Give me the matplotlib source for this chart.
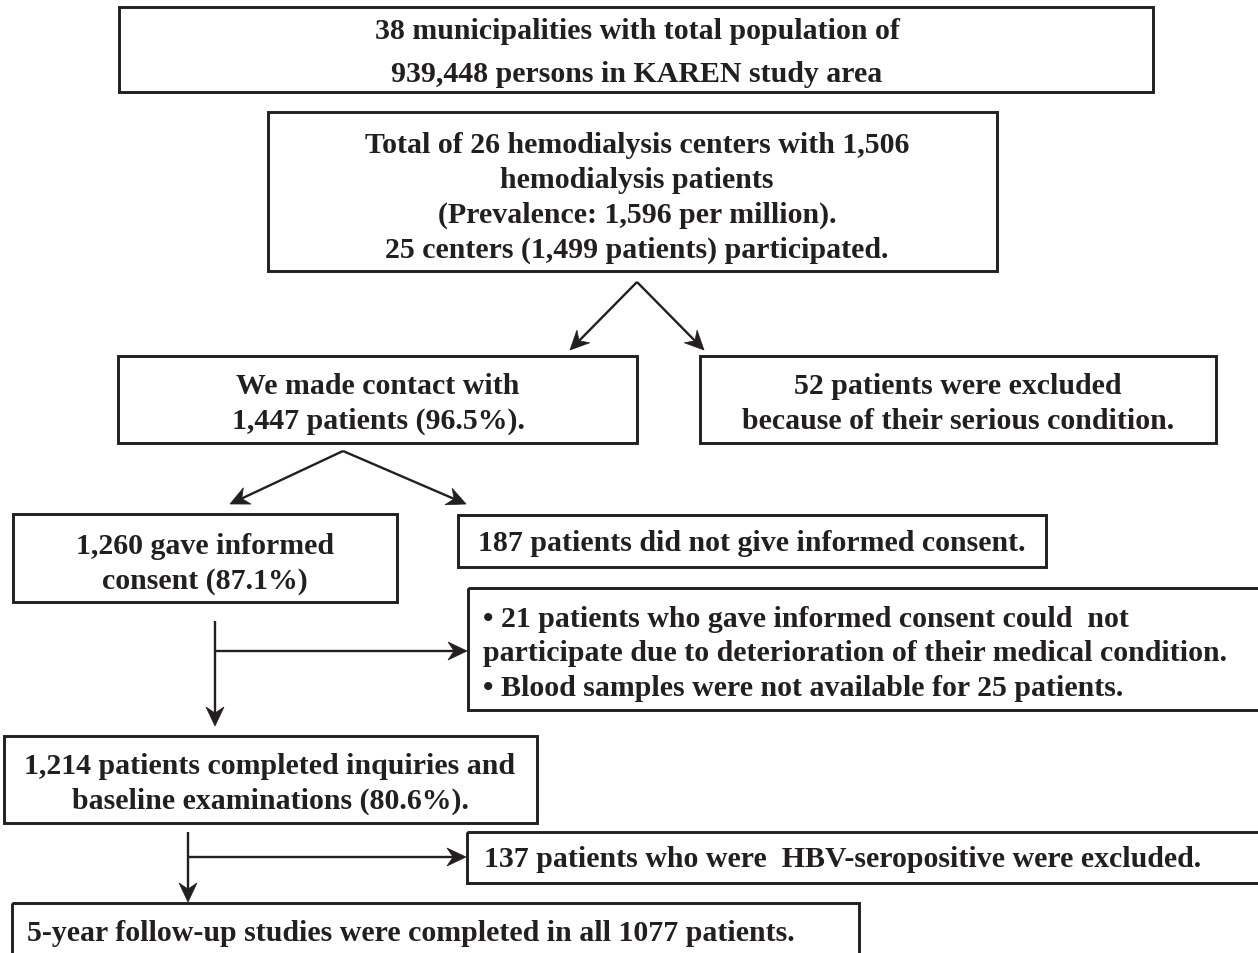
import numpy as np
import matplotlib
matplotlib.use("Agg")
import matplotlib.pyplot as plt
from matplotlib.patches import Rectangle, Polygon

# ---- content ----
box_texts = [
    "38 municipalities with total population of\n939,448 persons in KAREN study area",
    "Total of 26 hemodialysis centers with 1,506\nhemodialysis patients\n(Prevalence: 1,596 per million).\n25 centers (1,499 patients) participated.",
    "We made contact with\n1,447 patients (96.5%).",
    "52 patients were excluded\nbecause of their serious condition.",
    "1,260 gave informed\nconsent (87.1%)",
    "187 patients did not give informed consent.",
    "• 21 patients who gave informed consent could  not\nparticipate due to deterioration of their medical condition.\n• Blood samples were not available for 25 patients.",
    "1,214 patients completed inquiries and\nbaseline examinations (80.6%).",
    "137 patients who were  HBV-seropositive were excluded.",
    "5-year follow-up studies were completed in all 1077 patients.",
]

# ---- layout (pixel coordinates: x0, y0, x1, y1) ----
boxes = [
    (119, 8, 1153, 93),
    (268, 113, 997, 272),
    (118, 357, 637, 444),
    (700, 357, 1216, 444),
    (13, 515, 397, 603),
    (458, 516, 1046, 568),
    (468, 589, 1262, 711),
    (4, 737, 537, 824),
    (467, 833, 1262, 884),
    (12, 904, 859, 960),
]
# text anchor: (x, y, ha)
anchors = [
    (637, 53, "center"),
    (637, 198, "center"),
    (378, 404, "center"),
    (958, 404, "center"),
    (205, 564, "center"),
    (752, 544, "center"),
    (483, 654, "left"),
    (270, 784, "center"),
    (484, 860, "left"),
    (27, 934, "left"),
]
linespacings = [1.72, 1.38, 1.38, 1.38, 1.38, 1.38, 1.38, 1.38, 1.38, 1.38]

arrows = [
    ((637, 283), (570, 351)),
    ((637, 283), (704, 351)),
    ((343, 452), (230, 505)),
    ((343, 452), (466, 505)),
    ((215, 622), (215, 727)),
    ((215, 652), (467, 652)),
    ((188, 833), (188, 903)),
    ((188, 858), (466, 858)),
]

ink = "#231f20"

fig = plt.figure(figsize=(12.58, 9.54), dpi=100)
ax = fig.add_axes([0, 0, 1, 1])
ax.set_xlim(0, 1258)
ax.set_ylim(954, 0)
ax.axis("off")

for (x0, y0, x1, y1) in boxes:
    ax.add_patch(Rectangle((x0, y0), x1 - x0, y1 - y0, fill=False,
                           edgecolor=ink, linewidth=2.1))

for txt, (x, y, ha), ls in zip(box_texts, anchors, linespacings):
    ax.text(x, y, txt, ha=ha, va="center", multialignment=ha,
            fontfamily="Liberation Serif", fontweight="bold", fontsize=21.5,
            color=ink, linespacing=ls)

# stealth-style arrowheads
HL, HW, NOTCH = 19.0, 9.0, 0.68
for (p0, p1) in arrows:
    p0 = np.array(p0, float)
    p1 = np.array(p1, float)
    u = (p1 - p0) / np.linalg.norm(p1 - p0)
    n = np.array([-u[1], u[0]])
    base = p1 - HL * NOTCH * u
    ax.plot([p0[0], base[0]], [p0[1], base[1]], color=ink, lw=1.7,
            solid_capstyle="butt")
    head = [p1, p1 - HL * u + HW * n, base, p1 - HL * u - HW * n]
    ax.add_patch(Polygon(head, closed=True, facecolor=ink, edgecolor=ink, lw=0.5))

fig.savefig("out.png", dpi=100, facecolor="white")
